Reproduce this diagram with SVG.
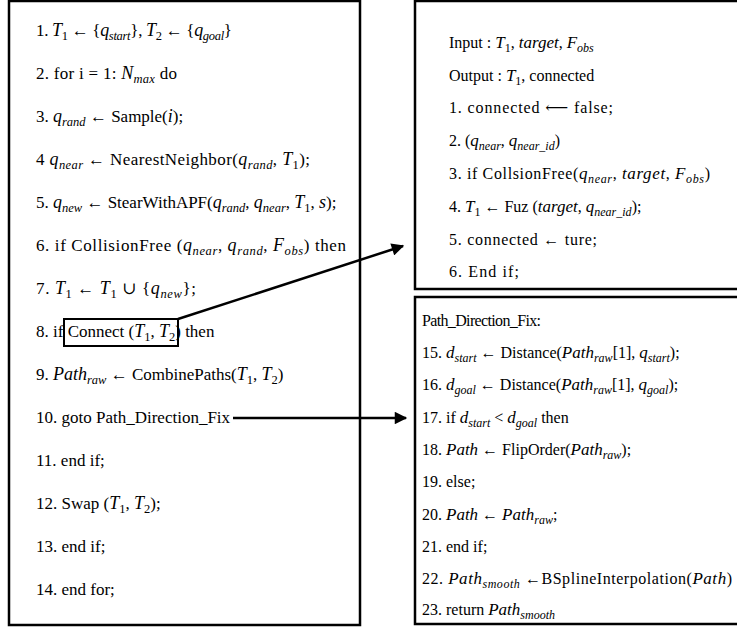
<svg xmlns="http://www.w3.org/2000/svg" width="737" height="632" viewBox="0 0 737 632">
<style>
.box{fill:#fff;stroke:#000;stroke-width:2.5}
.t{font-family:'Liberation Serif','DejaVu Serif','Noto Serif',serif;font-size:17px;fill:#000}
.r{font-family:'Liberation Serif','DejaVu Serif','Noto Serif',serif;font-size:16px;fill:#000}
.i{font-style:italic}
.t .i{font-size:18px}
.r .i{font-size:17px}
.s{font-style:italic}
.n{font-style:normal}
.t .s,.t .n{font-size:12.5px}
.r .s,.r .n{font-size:12px}
.conn{stroke:#000;stroke-width:2.5;fill:none}
</style>
<defs>
<marker id="arr" viewBox="0 0 10 10" refX="9" refY="5" markerWidth="5.5" markerHeight="5" orient="auto" markerUnits="strokeWidth">
<path d="M0,0 L10,5 L0,10 z" fill="#000"/>
</marker>
</defs>
<rect width="737" height="632" fill="#fff"/>

<g id="main" font-family="Liberation Serif, serif">
<rect class="box" x="9" y="1" width="351" height="624"/>
<text class="t" x="36" y="36" textLength="196" lengthAdjust="spacing">1. <tspan class="i">T</tspan><tspan class="n" dy="4">1</tspan><tspan dy="-4"> ← {</tspan><tspan class="i">q</tspan><tspan class="s" dy="4">start</tspan><tspan dy="-4">}, </tspan><tspan class="i">T</tspan><tspan class="n" dy="4">2</tspan><tspan dy="-4"> ← {</tspan><tspan class="i">q</tspan><tspan class="s" dy="4">goal</tspan><tspan dy="-4">}</tspan></text>
<text class="t" x="36" y="79" textLength="141" lengthAdjust="spacing">2. for i = 1: <tspan class="i">N</tspan><tspan class="s" dy="4">max</tspan><tspan dy="-4"> do</tspan></text>
<text class="t" x="36" y="122">3. <tspan class="i">q</tspan><tspan class="s" dy="4">rand</tspan><tspan dy="-4"> ← Sample(</tspan><tspan class="i">i</tspan><tspan>);</tspan></text>
<text class="t" x="36" y="165" textLength="274" lengthAdjust="spacing">4 <tspan class="i">q</tspan><tspan class="s" dy="4">near</tspan><tspan dy="-4"> ← NearestNeighbor(</tspan><tspan class="i">q</tspan><tspan class="s" dy="4">rand</tspan><tspan dy="-4">, </tspan><tspan class="i">T</tspan><tspan class="n" dy="4">1</tspan><tspan dy="-4">);</tspan></text>
<text class="t" x="36" y="208">5. <tspan class="i">q</tspan><tspan class="s" dy="4">new</tspan><tspan dy="-4"> ← StearWithAPF(</tspan><tspan class="i">q</tspan><tspan class="s" dy="4">rand</tspan><tspan dy="-4">, </tspan><tspan class="i">q</tspan><tspan class="s" dy="4">near</tspan><tspan dy="-4">, </tspan><tspan class="i">T</tspan><tspan class="n" dy="4">1</tspan><tspan dy="-4">, </tspan><tspan class="i">s</tspan><tspan>);</tspan></text>
<text class="t" x="36" y="251" textLength="310" lengthAdjust="spacing">6. if CollisionFree (<tspan class="i">q</tspan><tspan class="s" dy="4">near</tspan><tspan dy="-4">, </tspan><tspan class="i">q</tspan><tspan class="s" dy="4">rand</tspan><tspan dy="-4">, </tspan><tspan class="i">F</tspan><tspan class="s" dy="4">obs</tspan><tspan dy="-4">) then</tspan></text>
<text class="t" x="36" y="294" textLength="160" lengthAdjust="spacing">7. <tspan class="i">T</tspan><tspan class="n" dy="4">1</tspan><tspan dy="-4"> ← </tspan><tspan class="i">T</tspan><tspan class="n" dy="4">1</tspan><tspan dy="-4"> ∪ {</tspan><tspan class="i">q</tspan><tspan class="s" dy="4">new</tspan><tspan dy="-4">};</tspan></text>
<text class="t" x="36" y="337">8. if Connect (<tspan class="i">T</tspan><tspan class="n" dy="4">1</tspan><tspan dy="-4">, </tspan><tspan class="i">T</tspan><tspan class="n" dy="4">2</tspan><tspan dy="-4">) then</tspan></text>
<text class="t" x="36" y="380">9. <tspan class="i">Path</tspan><tspan class="s" dy="4">raw</tspan><tspan dy="-4"> ← CombinePaths(</tspan><tspan class="i">T</tspan><tspan class="n" dy="4">1</tspan><tspan dy="-4">, </tspan><tspan class="i">T</tspan><tspan class="n" dy="4">2</tspan><tspan dy="-4">)</tspan></text>
<text class="t" x="36" y="423">10. goto Path_Direction_Fix</text>
<text class="t" x="36" y="466">11. end if;</text>
<text class="t" x="36" y="509">12. Swap (<tspan class="i">T</tspan><tspan class="n" dy="4">1</tspan><tspan dy="-4">, </tspan><tspan class="i">T</tspan><tspan class="n" dy="4">2</tspan><tspan dy="-4">);</tspan></text>
<text class="t" x="36" y="552">13. end if;</text>
<text class="t" x="36" y="595">14. end for;</text>
</g>

<g id="connect-highlight">
<rect x="64" y="319" width="114" height="27" fill="none" stroke="#000" stroke-width="2"/>
</g>

<g id="connect-proc" font-family="Liberation Serif, serif">
<rect class="box" x="415" y="1" width="330" height="288"/>
<text class="r" x="449" y="48">Input : <tspan class="i">T</tspan><tspan class="n" dy="4">1</tspan><tspan dy="-4">, </tspan><tspan class="i">target</tspan><tspan>, </tspan><tspan class="i">F</tspan><tspan class="s" dy="4">obs</tspan></text>
<text class="r" x="449" y="81">Output : <tspan class="i">T</tspan><tspan class="n" dy="4">1</tspan><tspan dy="-4">, connected</tspan></text>
<text class="r" x="449" y="113" textLength="164" lengthAdjust="spacing">1. connected ⟵ false;</text>
<text class="r" x="449" y="146">2. (<tspan class="i">q</tspan><tspan class="s" dy="4">near</tspan><tspan dy="-4">, </tspan><tspan class="i">q</tspan><tspan class="s" dy="4">near_id</tspan><tspan dy="-4">)</tspan></text>
<text class="r" x="449" y="179" textLength="261" lengthAdjust="spacing">3. if CollsionFree(<tspan class="i">q</tspan><tspan class="s" dy="4">near</tspan><tspan dy="-4">, </tspan><tspan class="i">target</tspan><tspan>, </tspan><tspan class="i">F</tspan><tspan class="s" dy="4">obs</tspan><tspan dy="-4">)</tspan></text>
<text class="r" x="449" y="212">4. <tspan class="i">T</tspan><tspan class="n" dy="4">1</tspan><tspan dy="-4">  ← Fuz (</tspan><tspan class="i">target</tspan><tspan>, </tspan><tspan class="i">q</tspan><tspan class="s" dy="4">near_id</tspan><tspan dy="-4">);</tspan></text>
<text class="r" x="449" y="245" textLength="148" lengthAdjust="spacing">5. connected ← ture;</text>
<text class="r" x="449" y="277" textLength="70" lengthAdjust="spacing">6. End if;</text>
</g>

<g id="path-fix" font-family="Liberation Serif, serif">
<rect class="box" x="415" y="297" width="330" height="327"/>
<text class="r" x="422" y="326" textLength="119" lengthAdjust="spacing">Path_Direction_Fix:</text>
<text class="r" x="422" y="358">15. <tspan class="i">d</tspan><tspan class="s" dy="4">start</tspan><tspan dy="-4"> ← Distance(</tspan><tspan class="i">Path</tspan><tspan class="s" dy="4">raw</tspan><tspan dy="-4">[1], </tspan><tspan class="i">q</tspan><tspan class="s" dy="4">start</tspan><tspan dy="-4">);</tspan></text>
<text class="r" x="422" y="390">16. <tspan class="i">d</tspan><tspan class="s" dy="4">goal</tspan><tspan dy="-4"> ← Distance(</tspan><tspan class="i">Path</tspan><tspan class="s" dy="4">raw</tspan><tspan dy="-4">[1], </tspan><tspan class="i">q</tspan><tspan class="s" dy="4">goal</tspan><tspan dy="-4">);</tspan></text>
<text class="r" x="422" y="423">17. if <tspan class="i">d</tspan><tspan class="s" dy="4">start</tspan><tspan dy="-4"> &lt; </tspan><tspan class="i">d</tspan><tspan class="s" dy="4">goal</tspan><tspan dy="-4"> then</tspan></text>
<text class="r" x="422" y="455">18. <tspan class="i">Path</tspan><tspan>  ← FlipOrder(</tspan><tspan class="i">Path</tspan><tspan class="s" dy="4">raw</tspan><tspan dy="-4">);</tspan></text>
<text class="r" x="422" y="487">19. else;</text>
<text class="r" x="422" y="520">20. <tspan class="i">Path</tspan><tspan>  ←  </tspan><tspan class="i">Path</tspan><tspan class="s" dy="4">raw</tspan><tspan dy="-4">;</tspan></text>
<text class="r" x="422" y="552">21. end if;</text>
<text class="r" x="422" y="584" textLength="310" lengthAdjust="spacing">22. <tspan class="i">Path</tspan><tspan class="s" dy="4">smooth</tspan><tspan dy="-4"> ←BSplineInterpolation(</tspan><tspan class="i">Path</tspan><tspan>)</tspan></text>
<text class="r" x="422" y="615">23. return <tspan class="i">Path</tspan><tspan class="s" dy="4">smooth</tspan></text>
</g>

<g id="connectors">
<line class="conn" x1="178" y1="319" x2="403" y2="246" marker-end="url(#arr)"/>
<line class="conn" x1="233" y1="418" x2="406" y2="418" marker-end="url(#arr)"/>
</g>
</svg>
